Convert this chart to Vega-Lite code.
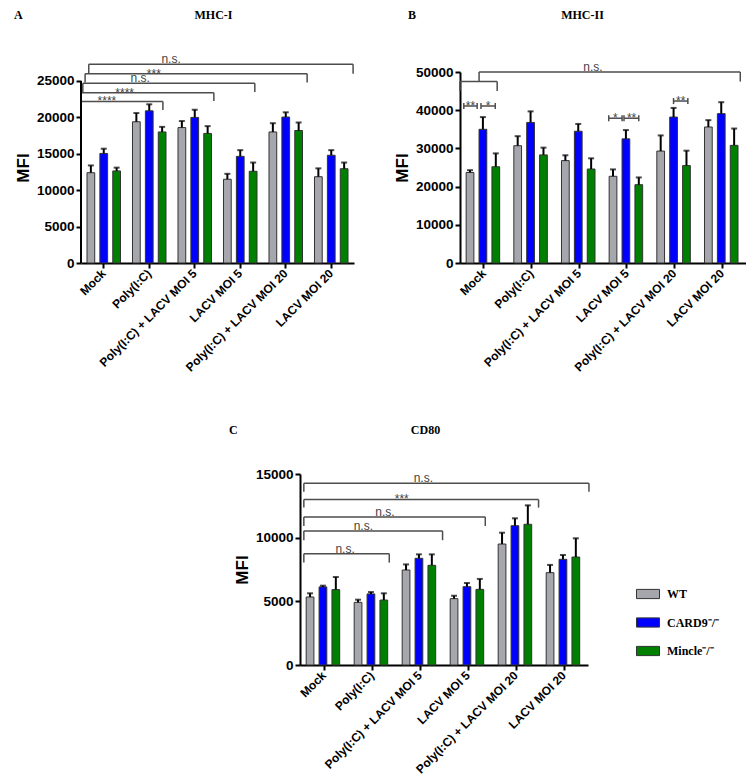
{
  "$schema": "https://vega.github.io/schema/vega-lite/v6.json",
  "padding": {"left": 13, "top": 8, "right": 0, "bottom": 0},
  "datasets": {
    "barsA": [
      {"treatment": "Mock", "genotype": "WT", "mean": 12400, "upper": 13400},
      {"treatment": "Mock", "genotype": "CARD9⁻/⁻", "mean": 15050, "upper": 15700},
      {"treatment": "Mock", "genotype": "Mincle⁻/⁻", "mean": 12650, "upper": 13100},
      {"treatment": "Poly(I:C)", "genotype": "WT", "mean": 19400, "upper": 20600},
      {"treatment": "Poly(I:C)", "genotype": "CARD9⁻/⁻", "mean": 20900, "upper": 21800},
      {"treatment": "Poly(I:C)", "genotype": "Mincle⁻/⁻", "mean": 18000, "upper": 18700},
      {"treatment": "Poly(I:C) + LACV MOI 5", "genotype": "WT", "mean": 18600, "upper": 19500},
      {"treatment": "Poly(I:C) + LACV MOI 5", "genotype": "CARD9⁻/⁻", "mean": 20000, "upper": 21050},
      {"treatment": "Poly(I:C) + LACV MOI 5", "genotype": "Mincle⁻/⁻", "mean": 17800, "upper": 18800},
      {"treatment": "LACV MOI 5", "genotype": "WT", "mean": 11500, "upper": 12250},
      {"treatment": "LACV MOI 5", "genotype": "CARD9⁻/⁻", "mean": 14650, "upper": 15500},
      {"treatment": "LACV MOI 5", "genotype": "Mincle⁻/⁻", "mean": 12600, "upper": 13800},
      {"treatment": "Poly(I:C) + LACV MOI 20", "genotype": "WT", "mean": 18000, "upper": 19200},
      {"treatment": "Poly(I:C) + LACV MOI 20", "genotype": "CARD9⁻/⁻", "mean": 20050, "upper": 20700},
      {"treatment": "Poly(I:C) + LACV MOI 20", "genotype": "Mincle⁻/⁻", "mean": 18200, "upper": 19300},
      {"treatment": "LACV MOI 20", "genotype": "WT", "mean": 11850, "upper": 13000},
      {"treatment": "LACV MOI 20", "genotype": "CARD9⁻/⁻", "mean": 14800, "upper": 15500},
      {"treatment": "LACV MOI 20", "genotype": "Mincle⁻/⁻", "mean": 12950, "upper": 13800}
    ],
    "barsB": [
      {"treatment": "Mock", "genotype": "WT", "mean": 23700, "upper": 24300},
      {"treatment": "Mock", "genotype": "CARD9⁻/⁻", "mean": 35000, "upper": 38200},
      {"treatment": "Mock", "genotype": "Mincle⁻/⁻", "mean": 25200, "upper": 28700},
      {"treatment": "Poly(I:C)", "genotype": "WT", "mean": 30700, "upper": 33200},
      {"treatment": "Poly(I:C)", "genotype": "CARD9⁻/⁻", "mean": 36800, "upper": 39700},
      {"treatment": "Poly(I:C)", "genotype": "Mincle⁻/⁻", "mean": 28300, "upper": 30200},
      {"treatment": "Poly(I:C) + LACV MOI 5", "genotype": "WT", "mean": 26800, "upper": 28200},
      {"treatment": "Poly(I:C) + LACV MOI 5", "genotype": "CARD9⁻/⁻", "mean": 34500, "upper": 36400},
      {"treatment": "Poly(I:C) + LACV MOI 5", "genotype": "Mincle⁻/⁻", "mean": 24600, "upper": 27400},
      {"treatment": "LACV MOI 5", "genotype": "WT", "mean": 22700, "upper": 24500},
      {"treatment": "LACV MOI 5", "genotype": "CARD9⁻/⁻", "mean": 32500, "upper": 34800},
      {"treatment": "LACV MOI 5", "genotype": "Mincle⁻/⁻", "mean": 20500, "upper": 22400},
      {"treatment": "Poly(I:C) + LACV MOI 20", "genotype": "WT", "mean": 29300, "upper": 33400},
      {"treatment": "Poly(I:C) + LACV MOI 20", "genotype": "CARD9⁻/⁻", "mean": 38200, "upper": 40600},
      {"treatment": "Poly(I:C) + LACV MOI 20", "genotype": "Mincle⁻/⁻", "mean": 25500, "upper": 29400},
      {"treatment": "LACV MOI 20", "genotype": "WT", "mean": 35600, "upper": 37400},
      {"treatment": "LACV MOI 20", "genotype": "CARD9⁻/⁻", "mean": 39100, "upper": 42100},
      {"treatment": "LACV MOI 20", "genotype": "Mincle⁻/⁻", "mean": 30800, "upper": 35200}
    ],
    "barsC": [
      {"treatment": "Mock", "genotype": "WT", "mean": 5340, "upper": 5630},
      {"treatment": "Mock", "genotype": "CARD9⁻/⁻", "mean": 6130, "upper": 6230},
      {"treatment": "Mock", "genotype": "Mincle⁻/⁻", "mean": 5920, "upper": 6910},
      {"treatment": "Poly(I:C)", "genotype": "WT", "mean": 4920, "upper": 5130},
      {"treatment": "Poly(I:C)", "genotype": "CARD9⁻/⁻", "mean": 5580, "upper": 5730},
      {"treatment": "Poly(I:C)", "genotype": "Mincle⁻/⁻", "mean": 5100, "upper": 5630},
      {"treatment": "Poly(I:C) + LACV MOI 5", "genotype": "WT", "mean": 7460, "upper": 7900},
      {"treatment": "Poly(I:C) + LACV MOI 5", "genotype": "CARD9⁻/⁻", "mean": 8380, "upper": 8690},
      {"treatment": "Poly(I:C) + LACV MOI 5", "genotype": "Mincle⁻/⁻", "mean": 7830, "upper": 8690},
      {"treatment": "LACV MOI 5", "genotype": "WT", "mean": 5210, "upper": 5440},
      {"treatment": "LACV MOI 5", "genotype": "CARD9⁻/⁻", "mean": 6150, "upper": 6440},
      {"treatment": "LACV MOI 5", "genotype": "Mincle⁻/⁻", "mean": 5940, "upper": 6760},
      {"treatment": "Poly(I:C) + LACV MOI 20", "genotype": "WT", "mean": 9500, "upper": 10390},
      {"treatment": "Poly(I:C) + LACV MOI 20", "genotype": "CARD9⁻/⁻", "mean": 10940, "upper": 11520},
      {"treatment": "Poly(I:C) + LACV MOI 20", "genotype": "Mincle⁻/⁻", "mean": 11050, "upper": 12540},
      {"treatment": "LACV MOI 20", "genotype": "WT", "mean": 7250, "upper": 7860},
      {"treatment": "LACV MOI 20", "genotype": "CARD9⁻/⁻", "mean": 8300, "upper": 8640},
      {"treatment": "LACV MOI 20", "genotype": "Mincle⁻/⁻", "mean": 8480, "upper": 9950}
    ],
    "brA": [
      {"x1": 0.17, "x2": 5.98, "y": 27300, "ya": 27300, "yb": 26000, "lx": 1.98, "label": "n.s."},
      {"x1": 0.09, "x2": 4.97, "y": 26000, "ya": 26000, "yb": 24800, "lx": 1.60, "label": "***"},
      {"x1": 0.04, "x2": 3.82, "y": 24700, "ya": 24700, "yb": 23500, "lx": 1.30, "label": "n.s."},
      {"x1": 0.0, "x2": 2.92, "y": 23400, "ya": 23400, "yb": 22250, "lx": 0.96, "label": "****"},
      {"x1": 0.0, "x2": 1.80, "y": 22200, "ya": 22200, "yb": 21000, "lx": 0.57, "label": "****"}
    ],
    "brB": [
      {"x1": 0.4, "x2": 5.88, "y": 50000, "ya": 50000, "yb": 47500, "lx": 2.79, "label": "n.s."},
      {"x1": 0.0, "x2": 0.78, "y": 47500, "ya": 47500, "yb": 45000, "lx": 0.4, "label": ""},
      {"x1": 0.08, "x2": 0.36, "y": 41100, "ya": 41900, "yb": 40300, "lx": 0.22, "label": "**"},
      {"x1": 0.44, "x2": 0.74, "y": 41100, "ya": 41900, "yb": 40300, "lx": 0.59, "label": "*"},
      {"x1": 3.12, "x2": 3.40, "y": 37900, "ya": 38700, "yb": 37100, "lx": 3.26, "label": "*"},
      {"x1": 3.44, "x2": 3.75, "y": 37900, "ya": 38700, "yb": 37100, "lx": 3.60, "label": "**"},
      {"x1": 4.48, "x2": 4.78, "y": 42400, "ya": 43200, "yb": 41600, "lx": 4.63, "label": "**"}
    ],
    "brC": [
      {"x1": 0.08, "x2": 6.02, "y": 14270, "ya": 14270, "yb": 13600, "lx": 2.57, "label": "n.s."},
      {"x1": 0.08, "x2": 4.97, "y": 13000, "ya": 13000, "yb": 12360, "lx": 2.12, "label": "***"},
      {"x1": 0.08, "x2": 3.86, "y": 11630, "ya": 11630, "yb": 10920, "lx": 1.77, "label": "n.s."},
      {"x1": 0.08, "x2": 2.97, "y": 10530, "ya": 10530, "yb": 9800, "lx": 1.32, "label": "n.s."},
      {"x1": 0.08, "x2": 1.86, "y": 8740, "ya": 8740, "yb": 8040, "lx": 0.94, "label": "n.s."}
    ]
  },
  "vconcat": [
    {
      "hconcat": [
        {
          "width": 273, "height": 191,
          "title": {"text": "A", "anchor": "start", "frame": "bounds", "font": "Liberation Serif", "fontSize": 12, "fontWeight": "bold", "color": "black", "offset": 0, "baseline": "alphabetic", "dx": -0.5, "dy": 22.5},
          "resolve": {"scale": {"x": "independent"}},
          "layer": [
            {
              "data": {"name": "barsA"},
              "encoding": {
                "x": {"field": "treatment", "type": "nominal", "sort": null, "title": null, "scale": {"paddingInner": 0.15, "paddingOuter": 0.075}},
                "xOffset": {"field": "genotype", "type": "nominal", "sort": ["WT", "CARD9⁻/⁻", "Mincle⁻/⁻"], "scale": {"paddingInner": 0.4, "paddingOuter": 0.2}}
              },
              "layer": [
                {"mark": {"type": "bar", "stroke": "#333333", "strokeWidth": 1},
                 "encoding": {
                   "y": {"field": "mean", "type": "quantitative", "scale": {"domain": [0, 26236], "nice": false}, "axis": {"title": "MFI", "values": [0, 5000, 10000, 15000, 20000, 25000], "format": "d", "domain": false, "labelFontSize": 13.5, "labelOverlap": false, "titleFontSize": 17, "titlePadding": 4, "labelPadding": 2}},
                   "color": {"field": "genotype", "type": "nominal", "scale": {"domain": ["WT", "CARD9⁻/⁻", "Mincle⁻/⁻"], "range": ["#A6A6AD", "#0000FF", "#008000"]}, "legend": null}
                 }},
                {"mark": {"type": "rule", "color": "black", "strokeWidth": 2}, "encoding": {"y": {"field": "mean", "type": "quantitative", "axis": {"title": "MFI", "values": [0, 5000, 10000, 15000, 20000, 25000], "format": "d", "domain": false, "labelFontSize": 13.5, "labelOverlap": false, "titleFontSize": 17, "titlePadding": 4, "labelPadding": 2}}, "y2": {"field": "upper"}}},
                {"mark": {"type": "tick", "color": "black", "thickness": 2, "size": 6}, "encoding": {"y": {"field": "upper", "type": "quantitative", "axis": {"title": "MFI", "values": [0, 5000, 10000, 15000, 20000, 25000], "format": "d", "domain": false, "labelFontSize": 13.5, "labelOverlap": false, "titleFontSize": 17, "titlePadding": 4, "labelPadding": 2}}}}
              ]
            },
            {
              "data": {"name": "brA"},
              "layer": [
                {"mark": {"type": "rule", "color": "#4d4d4d", "strokeWidth": 1.5},
                 "encoding": {
                   "x": {"field": "x1", "type": "quantitative", "scale": {"domain": [0, 6], "nice": false, "zero": false}, "axis": {"orient": "top", "domain": false, "ticks": false, "labels": false, "grid": false, "title": "MHC-I", "titleFont": "Liberation Serif", "titleFontSize": 12, "titleFontWeight": "bold", "titleColor": "black", "titleX": 132, "titleY": -53.5, "titleAlign": "center", "titleBaseline": "alphabetic", "titleAngle": 0}},
                   "x2": {"field": "x2"},
                   "y": {"field": "y", "type": "quantitative", "axis": {"title": "MFI", "values": [0, 5000, 10000, 15000, 20000, 25000], "format": "d", "domain": false, "labelFontSize": 13.5, "labelOverlap": false, "titleFontSize": 17, "titlePadding": 4, "labelPadding": 2}}
                 }},
                {"mark": {"type": "rule", "color": "#4d4d4d", "strokeWidth": 1.5}, "encoding": {"x": {"field": "x1", "type": "quantitative"}, "y": {"field": "ya", "type": "quantitative", "axis": {"title": "MFI", "values": [0, 5000, 10000, 15000, 20000, 25000], "format": "d", "domain": false, "labelFontSize": 13.5, "labelOverlap": false, "titleFontSize": 17, "titlePadding": 4, "labelPadding": 2}}, "y2": {"field": "yb"}}},
                {"mark": {"type": "rule", "color": "#4d4d4d", "strokeWidth": 1.5}, "encoding": {"x": {"field": "x2", "type": "quantitative"}, "y": {"field": "ya", "type": "quantitative", "axis": {"title": "MFI", "values": [0, 5000, 10000, 15000, 20000, 25000], "format": "d", "domain": false, "labelFontSize": 13.5, "labelOverlap": false, "titleFontSize": 17, "titlePadding": 4, "labelPadding": 2}}, "y2": {"field": "yb"}}},
                {"transform": [{"filter": "datum.label == 'n.s.'"}], "mark": {"type": "text", "font": "Liberation Sans", "fontSize": 12, "color": "#444444", "baseline": "alphabetic", "dy": -1}, "encoding": {"x": {"field": "lx", "type": "quantitative"}, "y": {"field": "y", "type": "quantitative", "axis": {"title": "MFI", "values": [0, 5000, 10000, 15000, 20000, 25000], "format": "d", "domain": false, "labelFontSize": 13.5, "labelOverlap": false, "titleFontSize": 17, "titlePadding": 4, "labelPadding": 2}}, "text": {"field": "label"}}},
                {"transform": [{"filter": "datum.label != 'n.s.'"}], "mark": {"type": "text", "font": "Liberation Sans", "fontSize": 12, "color": "#444444", "baseline": "alphabetic", "dy": 4}, "encoding": {"x": {"field": "lx", "type": "quantitative"}, "y": {"field": "y", "type": "quantitative", "axis": {"title": "MFI", "values": [0, 5000, 10000, 15000, 20000, 25000], "format": "d", "domain": false, "labelFontSize": 13.5, "labelOverlap": false, "titleFontSize": 17, "titlePadding": 4, "labelPadding": 2}}, "text": {"field": "label"}}},
                {"data": {"values": [{"axisline": 1}]}, "mark": {"type": "rule", "color": "black", "strokeWidth": 2}, "encoding": {"x": {"datum": 0}, "y": {"datum": 0, "type": "quantitative", "axis": {"title": "MFI", "values": [0, 5000, 10000, 15000, 20000, 25000], "format": "d", "domain": false, "labelFontSize": 13.5, "labelOverlap": false, "titleFontSize": 17, "titlePadding": 4, "labelPadding": 2}}, "y2": {"datum": 25000}}}
              ]
            }
          ]
        },
        {
          "width": 286, "height": 191,
          "title": {"text": "B", "anchor": "start", "frame": "bounds", "font": "Liberation Serif", "fontSize": 12, "fontWeight": "bold", "color": "black", "offset": 0, "baseline": "alphabetic", "dx": 14.5, "dy": 22.5},
          "resolve": {"scale": {"x": "independent"}},
          "layer": [
            {
              "data": {"name": "barsB"},
              "encoding": {
                "x": {"field": "treatment", "type": "nominal", "sort": null, "title": null, "scale": {"paddingInner": 0.15, "paddingOuter": 0.075}},
                "xOffset": {"field": "genotype", "type": "nominal", "sort": ["WT", "CARD9⁻/⁻", "Mincle⁻/⁻"], "scale": {"paddingInner": 0.4, "paddingOuter": 0.2}}
              },
              "layer": [
                {"mark": {"type": "bar", "stroke": "#333333", "strokeWidth": 1},
                 "encoding": {
                   "y": {"field": "mean", "type": "quantitative", "scale": {"domain": [0, 50000], "nice": false}, "axis": {"title": "MFI", "values": [0, 10000, 20000, 30000, 40000, 50000], "format": "d", "labelFontSize": 13.5, "labelOverlap": false, "titleFontSize": 17, "titlePadding": 4, "labelPadding": 2}},
                   "color": {"field": "genotype", "type": "nominal", "scale": {"domain": ["WT", "CARD9⁻/⁻", "Mincle⁻/⁻"], "range": ["#A6A6AD", "#0000FF", "#008000"]}, "legend": null}
                 }},
                {"mark": {"type": "rule", "color": "black", "strokeWidth": 2}, "encoding": {"y": {"field": "mean", "type": "quantitative", "axis": {"title": "MFI", "values": [0, 10000, 20000, 30000, 40000, 50000], "format": "d", "labelFontSize": 13.5, "labelOverlap": false, "titleFontSize": 17, "titlePadding": 4, "labelPadding": 2}}, "y2": {"field": "upper"}}},
                {"mark": {"type": "tick", "color": "black", "thickness": 2, "size": 6}, "encoding": {"y": {"field": "upper", "type": "quantitative", "axis": {"title": "MFI", "values": [0, 10000, 20000, 30000, 40000, 50000], "format": "d", "labelFontSize": 13.5, "labelOverlap": false, "titleFontSize": 17, "titlePadding": 4, "labelPadding": 2}}}}
              ]
            },
            {
              "data": {"name": "brB"},
              "layer": [
                {"mark": {"type": "rule", "color": "#4d4d4d", "strokeWidth": 1.5},
                 "encoding": {
                   "x": {"field": "x1", "type": "quantitative", "scale": {"domain": [0, 6], "nice": false, "zero": false}, "axis": {"orient": "top", "domain": false, "ticks": false, "labels": false, "grid": false, "title": "MHC-II", "titleFont": "Liberation Serif", "titleFontSize": 12, "titleFontWeight": "bold", "titleColor": "black", "titleX": 122, "titleY": -53.5, "titleAlign": "center", "titleBaseline": "alphabetic", "titleAngle": 0}},
                   "x2": {"field": "x2"},
                   "y": {"field": "y", "type": "quantitative", "axis": {"title": "MFI", "values": [0, 10000, 20000, 30000, 40000, 50000], "format": "d", "labelFontSize": 13.5, "labelOverlap": false, "titleFontSize": 17, "titlePadding": 4, "labelPadding": 2}}
                 }},
                {"mark": {"type": "rule", "color": "#4d4d4d", "strokeWidth": 1.5}, "encoding": {"x": {"field": "x1", "type": "quantitative"}, "y": {"field": "ya", "type": "quantitative", "axis": {"title": "MFI", "values": [0, 10000, 20000, 30000, 40000, 50000], "format": "d", "labelFontSize": 13.5, "labelOverlap": false, "titleFontSize": 17, "titlePadding": 4, "labelPadding": 2}}, "y2": {"field": "yb"}}},
                {"mark": {"type": "rule", "color": "#4d4d4d", "strokeWidth": 1.5}, "encoding": {"x": {"field": "x2", "type": "quantitative"}, "y": {"field": "ya", "type": "quantitative", "axis": {"title": "MFI", "values": [0, 10000, 20000, 30000, 40000, 50000], "format": "d", "labelFontSize": 13.5, "labelOverlap": false, "titleFontSize": 17, "titlePadding": 4, "labelPadding": 2}}, "y2": {"field": "yb"}}},
                {"transform": [{"filter": "datum.label == 'n.s.'"}], "mark": {"type": "text", "font": "Liberation Sans", "fontSize": 12, "color": "#444444", "baseline": "alphabetic", "dy": -1}, "encoding": {"x": {"field": "lx", "type": "quantitative"}, "y": {"field": "y", "type": "quantitative", "axis": {"title": "MFI", "values": [0, 10000, 20000, 30000, 40000, 50000], "format": "d", "labelFontSize": 13.5, "labelOverlap": false, "titleFontSize": 17, "titlePadding": 4, "labelPadding": 2}}, "text": {"field": "label"}}},
                {"transform": [{"filter": "datum.label != 'n.s.'"}], "mark": {"type": "text", "font": "Liberation Sans", "fontSize": 12, "color": "#444444", "baseline": "alphabetic", "dy": 4}, "encoding": {"x": {"field": "lx", "type": "quantitative"}, "y": {"field": "y", "type": "quantitative", "axis": {"title": "MFI", "values": [0, 10000, 20000, 30000, 40000, 50000], "format": "d", "labelFontSize": 13.5, "labelOverlap": false, "titleFontSize": 17, "titlePadding": 4, "labelPadding": 2}}, "text": {"field": "label"}}}
              ]
            }
          ]
        }
      ],
      "spacing": 106,
      "bounds": "flush"
    },
    {
      "hconcat": [
        {
          "width": 113, "height": 191,
          "data": {"values": []},
          "mark": "text"
        },
        {
          "width": 288, "height": 191,
          "title": {"text": "C", "anchor": "start", "frame": "bounds", "font": "Liberation Serif", "fontSize": 12, "fontWeight": "bold", "color": "black", "offset": 0, "baseline": "alphabetic", "dx": -4.5, "dy": 22.5},
          "resolve": {"scale": {"x": "independent"}},
          "layer": [
            {
              "data": {"name": "barsC"},
              "encoding": {
                "x": {"field": "treatment", "type": "nominal", "sort": null, "title": null, "scale": {"paddingInner": 0.15, "paddingOuter": 0.075}},
                "xOffset": {"field": "genotype", "type": "nominal", "sort": ["WT", "CARD9⁻/⁻", "Mincle⁻/⁻"], "scale": {"paddingInner": 0.4, "paddingOuter": 0.2}}
              },
              "layer": [
                {"mark": {"type": "bar", "stroke": "#333333", "strokeWidth": 1},
                 "encoding": {
                   "y": {"field": "mean", "type": "quantitative", "scale": {"domain": [0, 15000], "nice": false}, "axis": {"title": "MFI", "values": [0, 5000, 10000, 15000], "format": "d", "labelFontSize": 13.5, "labelOverlap": false, "titleFontSize": 17, "titlePadding": 4, "labelPadding": 2}},
                   "color": {"field": "genotype", "type": "nominal", "scale": {"domain": ["WT", "CARD9⁻/⁻", "Mincle⁻/⁻"], "range": ["#A6A6AD", "#0000FF", "#008000"]},
                     "legend": {"title": null, "orient": "none", "legendX": 555, "legendY": 108, "symbolType": "M-1,-0.4H1V0.4H-1Z", "symbolSize": 529, "symbolStrokeColor": "#333333", "symbolStrokeWidth": 1, "symbolOpacity": 1, "labelFont": "Liberation Serif", "labelFontSize": 12, "labelFontWeight": "bold", "labelColor": "black", "rowPadding": 9.5, "labelOffset": 7, "padding": 0}}
                 }},
                {"mark": {"type": "rule", "color": "black", "strokeWidth": 2}, "encoding": {"y": {"field": "mean", "type": "quantitative", "axis": {"title": "MFI", "values": [0, 5000, 10000, 15000], "format": "d", "labelFontSize": 13.5, "labelOverlap": false, "titleFontSize": 17, "titlePadding": 4, "labelPadding": 2}}, "y2": {"field": "upper"}}},
                {"mark": {"type": "tick", "color": "black", "thickness": 2, "size": 6}, "encoding": {"y": {"field": "upper", "type": "quantitative", "axis": {"title": "MFI", "values": [0, 5000, 10000, 15000], "format": "d", "labelFontSize": 13.5, "labelOverlap": false, "titleFontSize": 17, "titlePadding": 4, "labelPadding": 2}}}}
              ]
            },
            {
              "data": {"name": "brC"},
              "layer": [
                {"mark": {"type": "rule", "color": "#4d4d4d", "strokeWidth": 1.5},
                 "encoding": {
                   "x": {"field": "x1", "type": "quantitative", "scale": {"domain": [0, 6], "nice": false, "zero": false}, "axis": {"orient": "top", "domain": false, "ticks": false, "labels": false, "grid": false, "title": "CD80", "titleFont": "Liberation Serif", "titleFontSize": 12, "titleFontWeight": "bold", "titleColor": "black", "titleX": 125, "titleY": -40.5, "titleAlign": "center", "titleBaseline": "alphabetic", "titleAngle": 0}},
                   "x2": {"field": "x2"},
                   "y": {"field": "y", "type": "quantitative", "axis": {"title": "MFI", "values": [0, 5000, 10000, 15000], "format": "d", "labelFontSize": 13.5, "labelOverlap": false, "titleFontSize": 17, "titlePadding": 4, "labelPadding": 2}}
                 }},
                {"mark": {"type": "rule", "color": "#4d4d4d", "strokeWidth": 1.5}, "encoding": {"x": {"field": "x1", "type": "quantitative"}, "y": {"field": "ya", "type": "quantitative", "axis": {"title": "MFI", "values": [0, 5000, 10000, 15000], "format": "d", "labelFontSize": 13.5, "labelOverlap": false, "titleFontSize": 17, "titlePadding": 4, "labelPadding": 2}}, "y2": {"field": "yb"}}},
                {"mark": {"type": "rule", "color": "#4d4d4d", "strokeWidth": 1.5}, "encoding": {"x": {"field": "x2", "type": "quantitative"}, "y": {"field": "ya", "type": "quantitative", "axis": {"title": "MFI", "values": [0, 5000, 10000, 15000], "format": "d", "labelFontSize": 13.5, "labelOverlap": false, "titleFontSize": 17, "titlePadding": 4, "labelPadding": 2}}, "y2": {"field": "yb"}}},
                {"transform": [{"filter": "datum.label == 'n.s.'"}], "mark": {"type": "text", "font": "Liberation Sans", "fontSize": 12, "color": "#444444", "baseline": "alphabetic", "dy": -1}, "encoding": {"x": {"field": "lx", "type": "quantitative"}, "y": {"field": "y", "type": "quantitative", "axis": {"title": "MFI", "values": [0, 5000, 10000, 15000], "format": "d", "labelFontSize": 13.5, "labelOverlap": false, "titleFontSize": 17, "titlePadding": 4, "labelPadding": 2}}, "text": {"field": "label"}}},
                {"transform": [{"filter": "datum.label != 'n.s.'"}], "mark": {"type": "text", "font": "Liberation Sans", "fontSize": 12, "color": "#444444", "baseline": "alphabetic", "dy": 4}, "encoding": {"x": {"field": "lx", "type": "quantitative"}, "y": {"field": "y", "type": "quantitative", "axis": {"title": "MFI", "values": [0, 5000, 10000, 15000], "format": "d", "labelFontSize": 13.5, "labelOverlap": false, "titleFontSize": 17, "titlePadding": 4, "labelPadding": 2}}, "text": {"field": "label"}}}
              ]
            }
          ]
        }
      ],
      "spacing": 106,
      "bounds": "flush"
    }
  ],
  "spacing": 402,
  "bounds": "flush",
  "resolve": {"scale": {"color": "independent"}, "legend": {"color": "independent"}},
  "config": {
    "view": {"stroke": null},
    "axis": {"grid": false, "domainColor": "black", "domainWidth": 2, "tickColor": "black", "tickWidth": 2, "tickSize": 5, "labelFont": "Liberation Sans", "labelFontWeight": "bold", "labelColor": "black", "titleFont": "Liberation Sans", "titleFontWeight": "bold", "titleColor": "black"},
    "axisY": {"labelFontSize": 13.5, "titleFontSize": 17, "titlePadding": 4, "labelPadding": 2},
    "axisBottom": {"labelAngle": -45, "labelFontSize": 12, "labelAlign": "right", "labelBaseline": "middle", "labelPadding": 3}
  }
}
